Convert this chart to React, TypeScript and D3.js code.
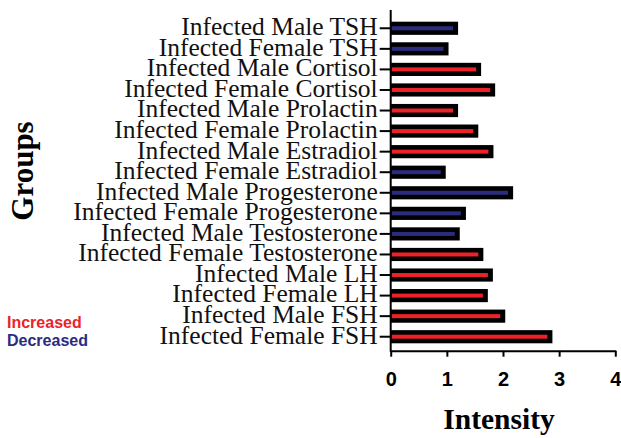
import React, { useEffect, useRef } from 'react';
import * as d3 from 'd3';

const groups = [
  'Infected Male TSH',
  'Infected Female TSH',
  'Infected Male Cortisol',
  'Infected Female Cortisol',
  'Infected Male Prolactin',
  'Infected Female Prolactin',
  'Infected Male Estradiol',
  'Infected Female Estradiol',
  'Infected Male Progesterone',
  'Infected Female Progesterone',
  'Infected Male Testosterone',
  'Infected Female Testosterone',
  'Infected Male LH',
  'Infected Female LH',
  'Infected Male FSH',
  'Infected Female FSH',
];
const intensity = [1.2, 1.03, 1.61, 1.86, 1.2, 1.56, 1.83, 0.98, 2.18, 1.34, 1.23, 1.65, 1.82, 1.73, 2.04, 2.88];
const change = ['dec', 'dec', 'inc', 'inc', 'inc', 'inc', 'inc', 'dec', 'dec', 'dec', 'dec', 'inc', 'inc', 'inc', 'inc', 'inc'];
const xTicks = [0, 1, 2, 3, 4];

const RED = '#ec2228';
const BLUE = '#2b2b80';

const App: React.FC = () => {
  const chartRef = useRef<SVGSVGElement>(null);

  useEffect(() => {
    const width = 621;
    const height = 438;
    const svg = d3.select(chartRef.current);
    svg.selectAll('*').remove();
    svg.attr('width', width).attr('height', height);

    const x = d3.scaleLinear().domain([0, 4]).range([390.7, 615.3]);
    const y = d3.scaleBand().domain(groups).range([18, 347]).paddingInner(0.36).paddingOuter(0.18);
    const axisY = 350.7;

    const data = groups.map((g, i) => ({ g, v: intensity[i], c: change[i] }));

    // bars: thick black border with coloured core
    const bars = svg.append('g');
    bars.selectAll('rect.outer')
      .data(data)
      .enter()
      .append('rect')
      .attr('class', 'outer')
      .attr('x', x(0))
      .attr('y', d => y(d.g)!)
      .attr('width', d => x(d.v) - x(0))
      .attr('height', y.bandwidth())
      .attr('fill', '#000');
    bars.selectAll('rect.inner')
      .data(data)
      .enter()
      .append('rect')
      .attr('class', 'inner')
      .attr('x', x(0) + 1)
      .attr('y', d => y(d.g)! + y.bandwidth() / 2 - 2)
      .attr('width', d => x(d.v) - x(0) - 6)
      .attr('height', 4)
      .attr('fill', d => (d.c === 'inc' ? RED : BLUE));

    // y axis
    const gy = svg.append('g')
      .attr('transform', `translate(${x(0)},0)`)
      .call(d3.axisLeft(y).tickSize(11).tickPadding(2).tickSizeOuter(0));
    gy.select('.domain').remove();
    gy.selectAll('line').attr('stroke', '#000').attr('stroke-width', 2);
    gy.selectAll('text')
      .attr('fill', '#111')
      .attr('font-family', '"Liberation Serif", "Times New Roman", serif')
      .attr('font-size', 25.5)
      .attr('dy', '0.27em');
    gy.append('line')
      .attr('x1', 0).attr('x2', 0)
      .attr('y1', 10).attr('y2', axisY + 1)
      .attr('stroke', '#000').attr('stroke-width', 2);

    // x axis
    const gx = svg.append('g')
      .attr('transform', `translate(0,${axisY})`)
      .call(d3.axisBottom(x).tickValues(xTicks).tickFormat(d3.format('d')).tickSize(6).tickPadding(15).tickSizeOuter(0));
    gx.select('.domain').attr('stroke', '#000').attr('stroke-width', 2);
    gx.selectAll('line').attr('stroke', '#000').attr('stroke-width', 2);
    gx.selectAll('text')
      .attr('fill', '#000')
      .attr('font-family', '"Liberation Sans", Arial, sans-serif')
      .attr('font-weight', 'bold')
      .attr('font-size', 20);

    // axis titles
    svg.append('text')
      .attr('x', 499).attr('y', 429)
      .attr('text-anchor', 'middle')
      .attr('font-family', '"Liberation Serif", "Times New Roman", serif')
      .attr('font-weight', 'bold')
      .attr('font-size', 29.5)
      .text('Intensity');
    svg.append('text')
      .attr('transform', 'translate(33,171) rotate(-90)')
      .attr('text-anchor', 'middle')
      .attr('font-family', '"Liberation Serif", "Times New Roman", serif')
      .attr('font-weight', 'bold')
      .attr('font-size', 31)
      .text('Groups');

    // legend
    const legend = [
      { label: 'Increased', color: RED, yy: 328 },
      { label: 'Decreased', color: BLUE, yy: 346 },
    ];
    svg.selectAll('text.legend')
      .data(legend)
      .enter()
      .append('text')
      .attr('class', 'legend')
      .attr('x', 7)
      .attr('y', d => d.yy)
      .attr('fill', d => d.color)
      .attr('font-family', '"Liberation Sans", Arial, sans-serif')
      .attr('font-weight', 'bold')
      .attr('font-size', 16)
      .text(d => d.label);
  }, []);

  return (
    <div style={{ position: 'absolute', left: 0, top: 0, background: '#fff' }}>
      <svg ref={chartRef} style={{ display: 'block' }}></svg>
    </div>
  );
};

export default App;
